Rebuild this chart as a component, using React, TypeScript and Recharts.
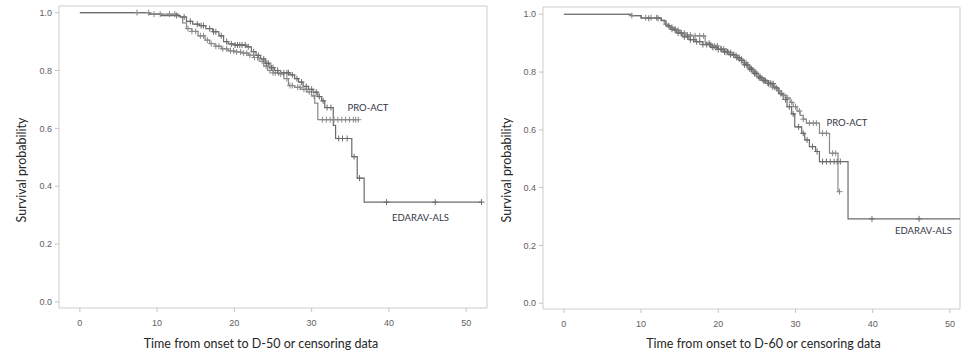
import React from "react";
import { LineChart, Line, XAxis, YAxis, ReferenceArea } from "recharts";

// Kaplan-Meier steps: step start times, survival after the step, censor times
const leftATimes = [0, 9.0, 12.8, 13.3, 13.8, 14.5, 15.3, 16.2, 16.8, 17.5, 18.3, 19.2, 20.0, 21.0, 21.8, 22.5, 23.2, 23.8, 24.3, 25.0, 25.8, 26.4, 27.0, 27.8, 28.6, 29.4, 30.0, 30.4, 30.8];
const leftASurv = [1.0, 0.995, 0.985, 0.965, 0.945, 0.935, 0.92, 0.905, 0.893, 0.884, 0.875, 0.868, 0.864, 0.86, 0.853, 0.845, 0.832, 0.815, 0.8, 0.792, 0.788, 0.772, 0.748, 0.742, 0.735, 0.726, 0.712, 0.687, 0.63];
const leftACens = [7.4, 8.9, 9.6, 10.4, 11.6, 12.3, 14.0, 14.5, 15.0, 15.6, 16.0, 16.5, 17.0, 17.6, 18.0, 18.5, 19.0, 19.5, 19.9, 20.3, 20.8, 21.2, 21.6, 22.0, 22.6, 23.0, 23.6, 24.1, 24.6, 25.0, 25.3, 25.7, 26.0, 26.8, 27.2, 27.5, 28.2, 28.5, 29.0, 29.3, 29.7, 30.3, 31.4, 31.9, 32.4, 32.9, 33.4, 33.9, 34.4, 34.9, 35.4, 35.7, 36.05];

const leftBTimes = [0, 9.0, 10.5, 13.0, 13.8, 14.6, 15.5, 16.3, 17.2, 18.0, 18.6, 19.2, 20.0, 21.5, 22.2, 22.8, 23.4, 24.0, 24.6, 25.2, 26.0, 27.2, 27.8, 28.3, 28.9, 29.6, 30.2, 30.8, 31.3, 31.7, 32.8, 33.1, 35.2, 35.9, 36.8];
const leftBSurv = [1.0, 0.995, 0.99, 0.985, 0.97, 0.96, 0.955, 0.945, 0.934, 0.92, 0.9, 0.892, 0.888, 0.882, 0.865, 0.852, 0.84, 0.825, 0.81, 0.8, 0.792, 0.785, 0.772, 0.76, 0.745, 0.735, 0.725, 0.71, 0.695, 0.672, 0.61, 0.565, 0.502, 0.428, 0.345];
const leftBCens = [12.5, 13.5, 14.3, 15.2, 15.7, 16.0, 16.8, 17.3, 17.6, 18.3, 19.0, 19.6, 20.1, 20.4, 20.7, 21.0, 21.4, 21.8, 22.5, 23.1, 23.8, 24.2, 24.4, 24.8, 25.0, 25.6, 26.4, 26.8, 27.0, 27.5, 28.1, 28.7, 29.3, 30.0, 30.6, 31.0, 31.5, 32.0, 32.5, 33.5, 34.0, 34.6, 35.5, 36.2, 39.7, 46.0, 52.0];

const rightATimes = [0, 8.5, 10.0, 12.6, 13.0, 13.5, 14.2, 15.0, 15.8, 16.5, 18.3, 19.0, 20.0, 21.0, 21.8, 22.5, 23.2, 23.8, 24.4, 25.0, 25.6, 26.3, 27.0, 27.6, 28.2, 28.8, 29.3, 29.7, 30.2, 30.6, 31.0, 31.4, 33.1, 34.4, 35.5];
const rightASurv = [1.0, 0.995, 0.988, 0.98, 0.965, 0.955, 0.945, 0.935, 0.928, 0.925, 0.9, 0.89, 0.88, 0.868, 0.858, 0.845, 0.832, 0.815, 0.8, 0.785, 0.772, 0.762, 0.748, 0.735, 0.72, 0.71, 0.695, 0.68, 0.665, 0.65, 0.637, 0.623, 0.588, 0.519, 0.386];
const rightACens = [8.8, 10.6, 11.3, 12.0, 13.3, 14.0, 14.4, 14.8, 15.2, 15.6, 16.0, 16.4, 17.0, 17.6, 18.1, 18.8, 19.2, 19.5, 19.9, 20.3, 20.7, 21.0, 21.3, 21.6, 22.0, 22.3, 22.7, 23.0, 23.3, 23.6, 24.0, 24.2, 24.6, 24.8, 25.2, 25.4, 25.8, 26.0, 26.4, 26.7, 27.0, 27.3, 27.9, 28.5, 29.0, 29.5, 30.0, 30.5, 31.0, 31.8, 32.3, 32.7, 33.5, 34.0, 34.8, 35.2, 35.7];

const rightBTimes = [0, 8.8, 10.0, 12.6, 13.2, 13.8, 14.6, 15.4, 16.2, 17.0, 18.0, 19.0, 19.8, 20.6, 21.4, 22.2, 22.8, 23.4, 24.0, 24.6, 25.2, 25.8, 26.5, 27.2, 27.8, 28.4, 28.9, 29.5, 29.9, 30.8, 31.2, 31.8, 32.6, 33.1, 36.8];
const rightBSurv = [1.0, 0.995, 0.986, 0.978, 0.96, 0.948, 0.935, 0.922, 0.912, 0.905, 0.895, 0.885, 0.878, 0.87, 0.86, 0.85, 0.84, 0.825, 0.81, 0.795, 0.78, 0.77, 0.76, 0.745, 0.725, 0.705, 0.68, 0.655, 0.61, 0.588, 0.565, 0.542, 0.525, 0.49, 0.292];
const rightBCens = [11.0, 12.2, 13.6, 14.0, 14.4, 14.8, 15.2, 15.6, 16.0, 16.4, 16.8, 17.2, 17.6, 18.0, 18.5, 18.9, 19.3, 19.7, 20.0, 20.4, 20.8, 21.2, 21.6, 22.0, 22.4, 22.7, 23.0, 23.4, 23.7, 24.1, 24.3, 24.7, 24.9, 25.3, 25.5, 25.9, 26.1, 26.5, 26.8, 27.1, 27.5, 28.1, 28.7, 29.2, 29.7, 30.4, 31.0, 31.5, 32.2, 32.8, 33.5, 34.0, 34.5, 35.0, 35.4, 35.8, 39.9, 46.0, 52.0];

const xTicks = [0, 10, 20, 30, 40, 50];
const yTicks = [0, 0.2, 0.4, 0.6, 0.8, 1.0];

type Row = { t: number; s: number; c: boolean };

function buildCurve(times: number[], surv: number[], cens: number[]): Row[] {
  const rows: Row[] = times.map((t, i) => ({ t, s: surv[i], c: false }));
  cens.forEach((t) => {
    let s = surv[0];
    times.forEach((st, i) => {
      if (st <= t) s = surv[i];
    });
    rows.push({ t, s, c: true });
  });
  return rows.sort((a, b) => a.t - b.t || (a.c ? 1 : -1));
}

const CensorMark = (props: any) => {
  const { cx, cy, payload, index, stroke } = props;
  if (!payload || !payload.c || cx == null || cy == null) return <g key={`n-${index}`} />;
  return (
    <path
      key={`c-${index}`}
      d={`M${cx - 3},${cy}h6M${cx},${cy - 3}v6`}
      stroke={stroke}
      strokeWidth={1}
      fill="none"
    />
  );
};

const tickStyle = { fontSize: 9, fill: "#5e5e5e", fontFamily: "Liberation Sans, Arial, sans-serif" };
const titleFont = "Lato, 'Open Sans', sans-serif";

type PanelProps = {
  width: number;
  left: number;
  margin: { top: number; right: number; bottom: number; left: number };
  yAxisWidth: number;
  xMax: number;
  yMin: number;
  yMax: number;
  curveA: Row[];
  curveB: Row[];
  xTitle: string;
  xTitleX: number;
  yTitleX: number;
  proAct: [number, number];
  edarav: [number, number];
};

function KmPanel(p: PanelProps) {
  return (
    <div style={{ position: "absolute", left: p.left, top: 0 }}>
      <LineChart width={p.width} height={354} margin={p.margin}>
        <XAxis
          type="number"
          dataKey="t"
          domain={[-2.7, p.xMax]}
          allowDataOverflow
          ticks={xTicks}
          axisLine={false}
          tickLine={{ stroke: "#c4c4c4" }}
          tickSize={4}
          tickMargin={8}
          tick={tickStyle}
          height={30}
        />
        <YAxis
          type="number"
          domain={[p.yMin, p.yMax]}
          allowDataOverflow
          ticks={yTicks}
          tickFormatter={(v: number) => v.toFixed(1)}
          axisLine={false}
          tickLine={{ stroke: "#c4c4c4" }}
          tickSize={4}
          tickMargin={3}
          tick={tickStyle}
          width={p.yAxisWidth}
        />
        <ReferenceArea
          x1={-2.7}
          x2={p.xMax}
          y1={p.yMin}
          y2={p.yMax}
          fill="none"
          fillOpacity={0}
          stroke="#cdcdcd"
          strokeWidth={1}
        />
        <Line
          data={p.curveA}
          dataKey="s"
          type="stepAfter"
          stroke="#8a8a8a"
          strokeWidth={1.2}
          dot={CensorMark}
          activeDot={false}
          isAnimationActive={false}
        />
        <Line
          data={p.curveB}
          dataKey="s"
          type="stepAfter"
          stroke="#6c6c6c"
          strokeWidth={1.2}
          dot={CensorMark}
          activeDot={false}
          isAnimationActive={false}
        />
        <text x={p.proAct[0]} y={p.proAct[1]} fontSize={9.5} fill="#333845" fontFamily={titleFont}>
          PRO-ACT
        </text>
        <text x={p.edarav[0]} y={p.edarav[1]} fontSize={9.5} fill="#333845" fontFamily={titleFont}>
          EDARAV-ALS
        </text>
        <text x={p.xTitleX} y={347.5} textAnchor="middle" fontSize={12.5} fill="#262626" fontFamily={titleFont}>
          {p.xTitle}
        </text>
        <text
          x={p.yTitleX}
          y={170}
          textAnchor="middle"
          dominantBaseline="central"
          transform={`rotate(-90, ${p.yTitleX}, 170)`}
          fontSize={12.5}
          fill="#262626"
          fontFamily={titleFont}
        >
          Survival probability
        </text>
      </LineChart>
    </div>
  );
}

export default function App() {
  return (
    <div style={{ position: "absolute", left: 0, top: 0, width: 961, height: 354, background: "#fff" }}>
      <KmPanel
        width={490}
        left={0}
        margin={{ top: 6, right: 3, bottom: 16, left: 0 }}
        yAxisWidth={59}
        xMax={52.7}
        yMin={-0.021}
        yMax={1.023}
        curveA={buildCurve(leftATimes, leftASurv, leftACens)}
        curveB={buildCurve(leftBTimes, leftBSurv, leftBCens)}
        xTitle="Time from onset to D-50 or censoring data"
        xTitleX={261}
        yTitleX={21}
        proAct={[347.5, 111]}
        edarav={[392, 221]}
      />
      <KmPanel
        width={481}
        left={480}
        margin={{ top: 7, right: 1, bottom: 15, left: 0 }}
        yAxisWidth={63}
        xMax={51.3}
        yMin={-0.02}
        yMax={1.025}
        curveA={buildCurve(rightATimes, rightASurv, rightACens)}
        curveB={buildCurve(rightBTimes, rightBSurv, rightBCens)}
        xTitle="Time from onset to D-60 or censoring data"
        xTitleX={283.5}
        yTitleX={26}
        proAct={[346.5, 126]}
        edarav={[415, 234]}
      />
    </div>
  );
}
